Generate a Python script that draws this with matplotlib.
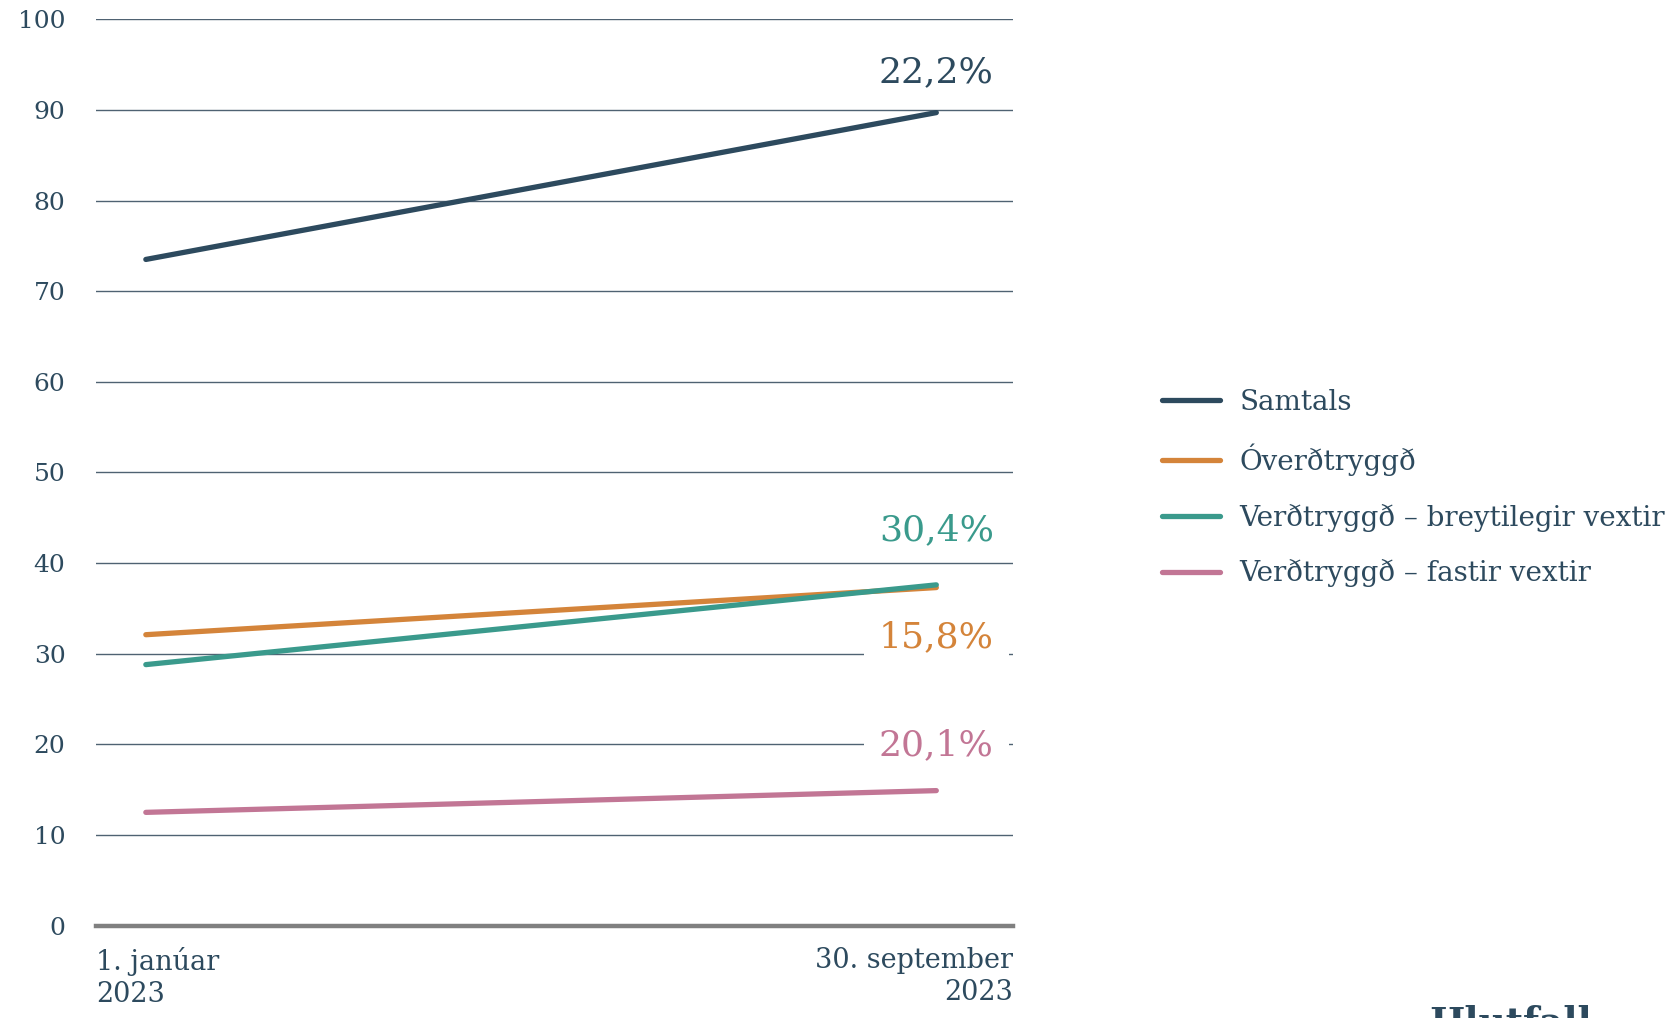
import numpy as np
import matplotlib
matplotlib.use("Agg")
import matplotlib.pyplot as plt

plt.rcParams['font.family'] = ['DejaVu Serif']

# data
dates = ["1. janúar\n2023", "30. september\n2023"]
series_names = ["Samtals", "Óverðtryggð",
                "Verðtryggð – breytilegir vextir", "Verðtryggð – fastir vextir"]
samtals = [73.5, 89.7]
overdtr = [32.1, 37.3]
verdtr_breyt = [28.8, 37.6]
verdtr_fast = [12.5, 14.9]
change_labels = ["22,2%", "15,8%", "30,4%", "20,1%"]
label_y = [94.2, 31.8, 43.6, 19.9]

colors = ["#2d4a5e", "#d4843a", "#3a9a8c", "#c27695"]
text_color = "#2d4a5e"

fig = plt.figure(figsize=(16.76, 10.18), dpi=100)
ax = fig.add_axes([0.0573, 0.0907, 0.5471, 0.8904])

x = np.arange(len(dates))
all_series = [samtals, overdtr, verdtr_breyt, verdtr_fast]
for vals, name, c in zip(all_series, series_names, colors):
    ax.plot(x, vals, color=c, lw=3.8, solid_capstyle='round', label=name, zorder=3)

# percentage change labels at the end of the lines
for lab, ly, c in zip(change_labels, label_y, colors):
    boxed = lab in ("15,8%", "20,1%")
    ax.text(1.0, ly, lab, color=c, fontsize=26, ha='center', va='center', zorder=2,
            bbox=dict(fc='white', ec='none', pad=11) if boxed else None)

ax.set_xlim(-0.063, 1.097)
ax.set_ylim(0, 100)
ax.set_yticks(np.arange(0, 101, 10))
ax.grid(axis='y', color='#4f6272', lw=1.0)
ax.set_axisbelow(True)
for s in ['top', 'right', 'left']:
    ax.spines[s].set_visible(False)
ax.spines['bottom'].set_color('#808080')
ax.spines['bottom'].set_linewidth(3.2)
ax.tick_params(axis='y', length=0, pad=22, labelsize=18, labelcolor=text_color)
ax.tick_params(axis='x', length=0, pad=15, labelsize=19.5, labelcolor=text_color)
ax.set_xticks(ax.get_xlim())
ax.set_xticklabels(dates)
tl = ax.get_xticklabels()
tl[0].set_ha('left')
tl[1].set_ha('right')
tl[0].set_multialignment('left')
tl[1].set_multialignment('right')
for t in tl:
    t.set_linespacing(1.25)

leg = fig.legend(loc='center left', bbox_to_anchor=(0.6933, 0.5206), frameon=False,
                 fontsize=20, handlelength=2.1, handletextpad=0.7, labelspacing=1.0,
                 borderpad=0, borderaxespad=0)
for t in leg.get_texts():
    t.set_color(text_color)

fig.text(0.853, 0.0128, "Hlutfall", fontsize=27, fontweight='bold',
         color=text_color, ha='left', va='top')

fig.savefig("out.png", dpi=100)
